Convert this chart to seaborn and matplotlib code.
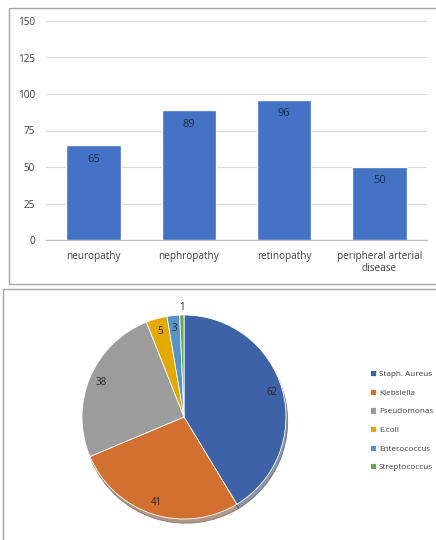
import matplotlib
matplotlib.use("Agg")
import matplotlib.pyplot as plt
import seaborn as sns
import pandas as pd
import numpy as np
from matplotlib.patches import Rectangle

complications = ["neuropathy", "nephropathy", "retinopathy", "peripheral arterial\ndisease"]
counts = [65, 89, 96, 50]
y_ticks = [0, 25, 50, 75, 100, 125, 150]

organisms = ["Staph. Aureus", "Klebsiella", "Pseudomonas", "E.coli", "Enterococcus", "Streptococcus"]
org_counts = [62, 41, 38, 5, 3, 1]
org_colors = ["#3D63A6", "#D2702F", "#9C9C9C", "#E2A900", "#5792CB", "#6BA64A"]

sns.set_theme(style="white")
plt.rcParams["font.family"] = ["Open Sans", "DejaVu Sans"]

W, H = 436, 540
fig = plt.figure(figsize=(W / 100, H / 100), dpi=100)
fig.patch.set_facecolor("white")

# panel borders
fig.add_artist(Rectangle((9 / W, 1 - 284 / H), 1.0, (284 - 8) / H, transform=fig.transFigure,
                         fill=False, edgecolor="#A6A6A6", linewidth=1.0))
fig.add_artist(Rectangle((3 / W, -0.1), 1.0, 0.1 + (1 - 289 / H), transform=fig.transFigure,
                         fill=False, edgecolor="#A6A6A6", linewidth=1.0))

# bar chart
ax = fig.add_axes([46 / W, 1 - 240 / H, (427 - 46) / W, (240 - 21) / H])
df = pd.DataFrame({"complication": complications, "count": counts})
sns.barplot(data=df, x="complication", y="count", color="#4472C4", saturation=1,
            width=0.57, ax=ax, zorder=3)
ax.set_ylim(0, 150)
ax.set_xlim(-0.5, len(complications) - 0.5)
ax.set_yticks(y_ticks)
ax.set_xlabel("")
ax.set_ylabel("")
ax.yaxis.grid(True, color="#D9D9D9", linewidth=0.9, zorder=0)
ax.set_axisbelow(True)
for s in ["left", "right", "top"]:
    ax.spines[s].set_visible(False)
ax.spines["bottom"].set_color("#BFBFBF")
ax.spines["bottom"].set_linewidth(0.9)
ax.tick_params(axis="both", length=0, labelsize=7.2, colors="#404040")
ax.tick_params(axis="y", pad=8)
ax.tick_params(axis="x", pad=8)
for lbl in ax.get_xticklabels():
    lbl.set_linespacing(1.05)
for c in ax.containers:
    ax.bar_label(c, labels=[str(v) for v in counts], label_type="edge", padding=-14,
                 fontsize=8, color="#1F2A44")

# pie chart
R = 102
cx, cy = 184, 417
pax = fig.add_axes([(cx - R) / W, 1 - (cy + R) / H, 2 * R / W, 2 * R / H])
wedges, _ = pax.pie(org_counts, colors=org_colors, startangle=90, counterclock=False,
                    wedgeprops={"linewidth": 0.6, "edgecolor": "white"},
                    shadow={"ox": 0.012, "oy": -0.03, "shade": 0.55})
pax.set_xlim(-1, 1)
pax.set_ylim(-1, 1)
pax.set_aspect("auto")
dists = [0.9, 0.88, 0.88, 0.87, 0.87, 1.07]
for w, v, d in zip(wedges, org_counts, dists):
    ang = np.deg2rad((w.theta1 + w.theta2) / 2)
    pax.text(d * np.cos(ang), d * np.sin(ang), str(v), ha="center", va="center",
             fontsize=7, color="#262626", clip_on=False)

fig.legend(wedges, organisms, loc="upper left", bbox_to_anchor=(370 / W, 1 - 370 / H),
           frameon=False, fontsize=5.9, handlelength=0.75, handleheight=0.8,
           handletextpad=0.35, labelspacing=1.3, borderaxespad=0, borderpad=0,
           labelcolor="#404040")

fig.savefig("out.png", dpi=100, facecolor="white")
